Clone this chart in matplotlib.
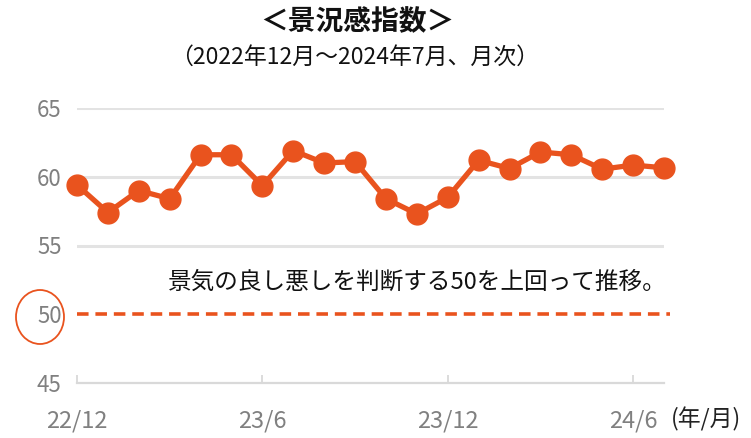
import matplotlib
matplotlib.use("Agg")
import matplotlib.pyplot as plt
from matplotlib.patches import Ellipse

plt.rcParams['font.family'] = ['Noto Sans CJK JP', 'DejaVu Sans']

# --- data ---
months = ['22/12', '23/1', '23/2', '23/3', '23/4', '23/5', '23/6', '23/7', '23/8', '23/9',
          '23/10', '23/11', '23/12', '24/1', '24/2', '24/3', '24/4', '24/5', '24/6', '24/7']
index_values = [59.4, 57.4, 59.0, 58.4, 61.6, 61.6, 59.35, 61.9, 61.0, 61.1,
                58.4, 57.3, 58.5, 61.2, 60.6, 61.8, 61.6, 60.55, 60.85, 60.65]
threshold = 50
tick_labels = ['22/12', '23/6', '23/12', '24/6']
y_ticks = [45, 50, 55, 60, 65]

orange = '#E9531E'
gray = '#808080'

fig = plt.figure(figsize=(7.51, 4.38), dpi=100)
ax = fig.add_axes([77 / 751, 1 - 383 / 438, (664 - 77) / 751, (383 - 108) / 438])

x = list(range(len(months)))

# grid lines (no line at 50, the dashed threshold sits there)
for yv in [55, 60, 65]:
    ax.axhline(yv, color='#e3e3e3', lw=2.2, zorder=1)

ax.plot([-0.0, len(months) - 1 + 0.2], [threshold, threshold], color=orange, lw=2.6,
        dashes=(3.2, 1.9), zorder=2, clip_on=False)

ax.plot(x, index_values, color=orange, lw=3.8, marker='o', markersize=15,
        zorder=3, clip_on=False)

ax.set_xlim(0, len(months) - 1)
ax.set_ylim(45, 65)

for s in ['top', 'right', 'left']:
    ax.spines[s].set_visible(False)
ax.spines['bottom'].set_color('#d9d9d9')
ax.spines['bottom'].set_linewidth(1.6)

ax.set_yticks(y_ticks)
ax.set_yticklabels([str(v) for v in y_ticks])
ax.tick_params(axis='y', length=0, pad=11, labelsize=16, labelcolor=gray)

tick_pos = [months.index(m) for m in tick_labels]
ax.set_xticks(tick_pos)
ax.set_xticklabels(tick_labels)
ax.tick_params(axis='x', direction='in', length=6, width=1.3, color='#d9d9d9',
               pad=19, labelsize=17, labelcolor=gray)

fig.text(671 / 751, 1 - 419 / 438, '(年/月)', ha='left', va='center',
         fontsize=16.5, color='#222222')

ax.text(19.1, 52.3, '景気の良し悪しを判断する50を上回って推移。', ha='right', va='center',
        fontsize=17, color='#111111')

fig.text(357 / 751, 1 - 22 / 438, '＜景況感指数＞', ha='center', va='center',
         fontsize=20, fontweight='bold', color='#111111')
fig.text(355 / 751, 1 - 57 / 438, '（2022年12月～2024年7月、月次）', ha='center', va='center',
         fontsize=16.5, color='#111111')

fig.add_artist(Ellipse((40 / 751, 1 - 317 / 438), 48 / 751, 54 / 438,
                       transform=fig.transFigure, fill=False, edgecolor=orange, lw=1.3))

fig.savefig('out.png', dpi=100)
